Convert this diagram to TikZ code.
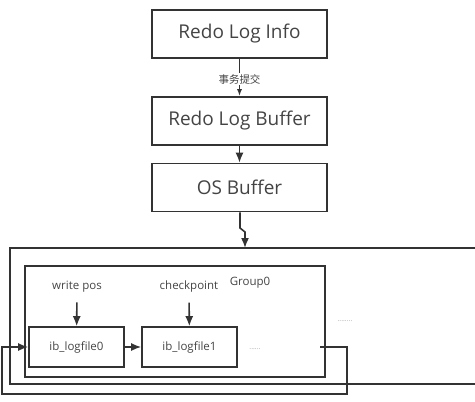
\documentclass[tikz,border=0pt]{standalone}
\usepackage{fontspec}
\setmainfont{Open Sans}
\newfontfamily\cjk{Noto Sans CJK SC}
\usetikzlibrary{arrows.meta}
\definecolor{linegray}{HTML}{333333}
\definecolor{textgray}{HTML}{444444}

\begin{document}
\begin{tikzpicture}[x=1pt,y=-1pt, line width=1.6pt, draw=linegray, text=textgray,
    bnode/.style={draw=linegray,rectangle,minimum width=175pt,minimum height=48pt,font=\fontsize{19}{21}\selectfont},
    fnode/.style={draw=linegray,rectangle,minimum width=95pt,minimum height=40pt,font=\fontsize{11.5}{13}\selectfont},
    lnode/.style={font=\fontsize{11.5}{13}\selectfont,inner sep=1pt},
    dnode/.style={font=\scriptsize,text=gray!70,inner sep=0pt},
    >={Latex[length=10pt,width=8pt]}]
    \useasboundingbox (0,0) rectangle (475,402);
    \clip (0,0) rectangle (475,402);

    \node[bnode] (info) at (239.5,34) {Redo Log Info};
    \node[bnode] (buf) at (239.5,121) {Redo Log Buffer};
    \node[bnode] (os) at (239.5,187.5) {OS Buffer};

    % outer frame, its right side lies beyond the picture
    \node[draw=linegray,rectangle,minimum width=490pt,minimum height=136pt] (outer) at (255,316) {};
    \node[draw=linegray,rectangle,minimum width=300pt,minimum height=111pt] (group) at (175,321.5) {};
    \node[lnode] (g0) at (250,283) {Group0};

    \node[fnode] (f0) at (76.5,347) {ib\_logfile0};
    \node[fnode] (f1) at (189.5,347) {ib\_logfile1};
    \node[lnode] (wp) at (77,287) {write pos};
    \node[lnode] (cp) at (189,287) {checkpoint};
    \node[dnode] (d1) at (255,349) {......};
    \node[dnode] (d2) at (345,321) {........};

    \coordinate (otop) at (245,248);
    \coordinate (k1) at (240,228);
    \coordinate (k2) at (245,232);
    \coordinate (ls) at (320,347);
    \coordinate (lr) at (347,347);
    \coordinate (lb) at (347,394);
    \coordinate (ll) at (2,394);
    \coordinate (lt) at (2,347);

    \draw[->, >={Latex[length=7pt,width=5pt]}] (info) -- node [pos=0.55, fill=white, inner sep=1pt, font=\cjk\fontsize{10.5}{12}\selectfont] {事务提交} (buf);
    \draw[->] (buf) -- (os);
    \draw[->] (os.south -| k1) -- (k1) -- (k2) -- (otop);
    \draw[->, shorten <=8pt] (wp) -- (f0);
    \draw[->, shorten <=8pt] (cp) -- (f1);
    \draw[->] (f0) -- (f1);
    \draw[->] (ls) -- (lr) -- (lb) -- (ll) -- (lt) -- (f0.west);
\end{tikzpicture}
\end{document}
